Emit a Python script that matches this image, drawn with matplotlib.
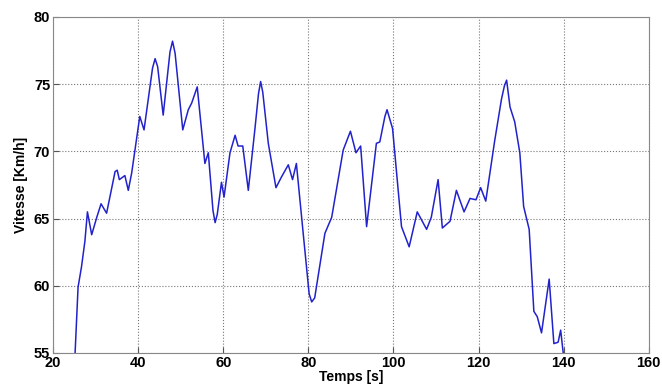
import matplotlib
matplotlib.use("Agg")
import matplotlib.pyplot as plt

temps = [24.9, 25.2, 25.9, 26.7, 27.5, 28.1, 29.1, 30.3, 31.3, 32.6, 34.6, 35.1, 35.6, 36.9,
         37.7, 38.5, 40.4, 41.4, 43.4, 44.0, 44.6, 45.9, 47.5, 48.1, 48.7, 50.5, 51.8, 52.6,
         53.9, 55.7, 56.5, 57.6, 58.1, 58.6, 59.6, 60.2, 61.6, 62.8, 63.5, 64.6, 65.9, 67.5,
         68.3, 68.8, 69.3, 70.6, 72.4, 73.7, 75.3, 76.3, 77.2, 78.8, 80.2, 80.8, 81.5, 83.9,
         85.5, 88.2, 89.9, 91.2, 92.3, 93.7, 96.0, 96.8, 98.0, 98.5, 99.8, 101.9, 103.7,
         105.6, 107.8, 108.9, 110.5, 111.5, 113.3, 114.8, 116.6, 118.0, 119.4, 120.5,
         121.7, 123.8, 125.4, 126.1, 126.6, 127.4, 128.5, 129.7, 130.6, 131.9, 133.0,
         133.8, 134.8, 136.6, 137.7, 138.7, 139.3, 139.9, 140.2]
vitesse = [54.5, 55.0, 59.9, 61.4, 63.3, 65.5, 63.8, 65.1, 66.1, 65.4, 68.5, 68.6, 67.9, 68.2,
           67.1, 68.4, 72.6, 71.6, 76.2, 76.9, 76.3, 72.7, 77.4, 78.2, 77.3, 71.6, 73.1, 73.6,
           74.8, 69.1, 69.9, 65.6, 64.7, 65.3, 67.7, 66.6, 69.9, 71.2, 70.4, 70.4, 67.1, 71.8,
           74.3, 75.2, 74.4, 70.6, 67.3, 68.1, 69.0, 67.9, 69.1, 63.9, 59.4, 58.8, 59.1, 63.9,
           65.1, 70.1, 71.5, 69.9, 70.4, 64.4, 70.6, 70.7, 72.6, 73.1, 71.7, 64.4, 62.9,
           65.5, 64.2, 65.1, 67.9, 64.3, 64.8, 67.1, 65.5, 66.5, 66.4, 67.3,
           66.3, 70.8, 73.9, 74.9, 75.3, 73.3, 72.2, 69.9, 65.9, 64.2, 58.1,
           57.7, 56.5, 60.5, 55.7, 55.8, 56.7, 55.0, 54.5]

xticks = [20, 40, 60, 80, 100, 120, 140, 160]
yticks = [55, 60, 65, 70, 75, 80]

plt.rcParams['font.family'] = ['Liberation Sans', 'DejaVu Sans']
fig = plt.figure(figsize=(6.62, 3.86), dpi=100)
ax = fig.add_axes([0.080, 0.0855, 0.900, 0.8705])
ax.plot(temps, vitesse, color='#2222cc', linewidth=1.1)
ax.set_xlim(20, 160)
ax.set_ylim(55, 80)
ax.set_xticks(xticks)
ax.set_yticks(yticks)
ax.set_xticklabels([str(t) for t in xticks], fontweight='bold', fontsize=10.5)
ax.set_yticklabels([str(t) for t in yticks], fontweight='bold', fontsize=10.5)
ax.tick_params(direction='in', length=4, pad=2, color='#555555')
ax.grid(True, linestyle=':', color='#777777', linewidth=0.8)
for s in ax.spines.values():
    s.set_color('#888888')
    s.set_linewidth(0.8)
ax.set_xlabel('Temps [s]', fontweight='bold', fontsize=10, labelpad=0)
ax.set_ylabel('Vitesse [Km/h]', fontweight='bold', fontsize=10, labelpad=4)
fig.savefig('out.png', dpi=100)
